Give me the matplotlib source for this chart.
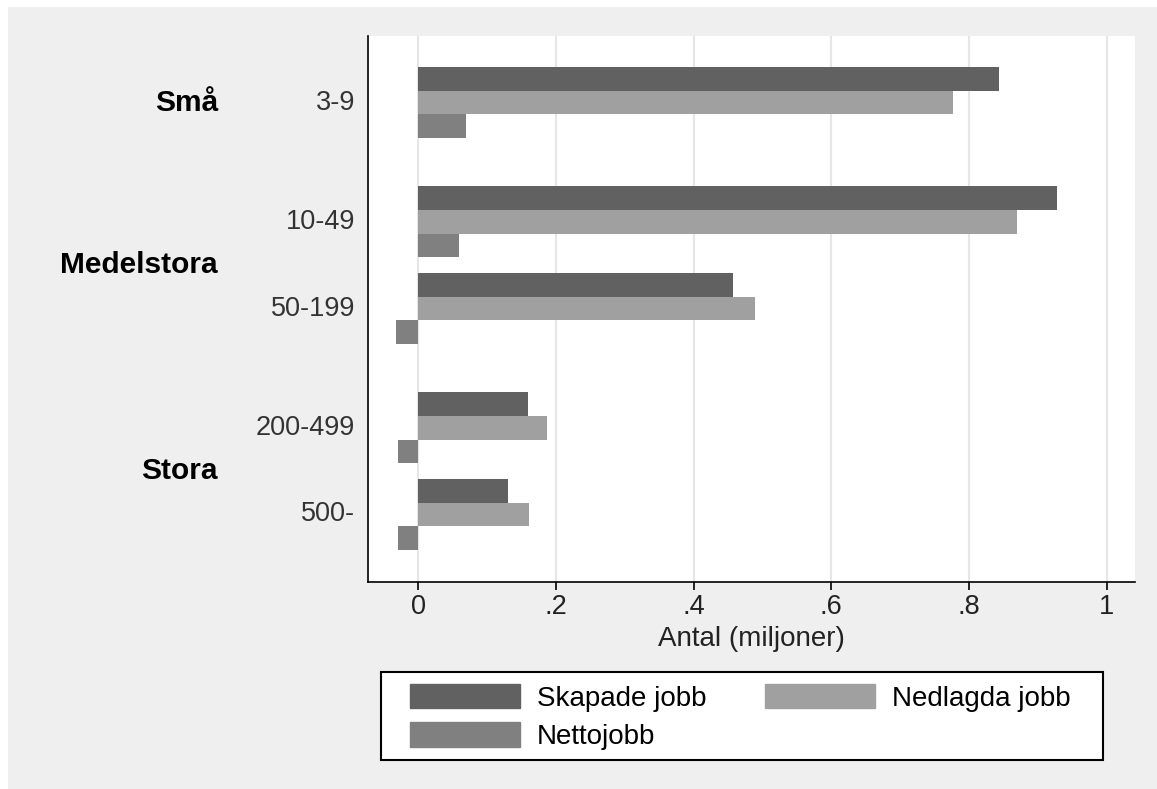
import numpy as np
import matplotlib
matplotlib.use('Agg')
import matplotlib.pyplot as plt
import matplotlib.transforms as mtransforms
from matplotlib.patches import Rectangle, Patch

plt.rcParams['font.family'] = ['Liberation Sans', 'DejaVu Sans']

# data (miljoner jobb)
sizes = ['3-9', '10-49', '50-199', '200-499', '500-']
size_group = [0, 1, 1, 2, 2]
groups = ['Små', 'Medelstora', 'Stora']
skapade = [0.844, 0.928, 0.458, 0.159, 0.131]
nedlagda = [0.777, 0.869, 0.490, 0.188, 0.161]
netto = [0.0697, 0.0595, -0.0315, -0.0295, -0.0295]
series_names = ['Skapade jobb', 'Nedlagda jobb', 'Nettojobb']
xticks = [0, 0.2, 0.4, 0.6, 0.8, 1.0]
xticklabels = ['0', '.2', '.4', '.6', '.8', '1']

c_skap = '#616161'
c_ned = '#a0a0a0'
c_net = '#808080'

W, H = 1157, 789
fig = plt.figure(figsize=(W / 100, H / 100), dpi=100, facecolor='white')
fig.patches.append(Rectangle((8 / W, 0), 1 - 8 / W, 1 - 7 / H, transform=fig.transFigure,
                             facecolor='#efefef', edgecolor='none', zorder=-10))

ax = fig.add_axes([368 / W, 1 - 582 / H, (1135 - 368) / W, (582 - 36) / H])
ax.set_facecolor('white')

# bar positions: step per size class plus extra gap between groups
pos = np.arange(len(sizes)) + 0.376 * np.array(size_group)
h = 0.273
ax.barh(pos - h, skapade, height=h, color=c_skap, zorder=3)
ax.barh(pos, nedlagda, height=h, color=c_ned, zorder=3)
ax.barh(pos + h, netto, height=h, color=c_net, zorder=3)

ax.set_xlim(-0.0726, 1.041)
ax.set_ylim(5.532, -0.769)
ax.set_xticks(xticks)
ax.set_xticklabels(xticklabels, fontsize=19.5, color='#222222')
ax.set_yticks([])
ax.grid(axis='x', color='#e6e6e6', linewidth=1.5, zorder=0)
ax.tick_params(axis='x', length=6, width=1.2, pad=3, color='black')
for s in ['top', 'right']:
    ax.spines[s].set_visible(False)
for s in ['left', 'bottom']:
    ax.spines[s].set_linewidth(1.2)
ax.set_xlabel('Antal (miljoner)', fontsize=20, labelpad=4, color='#222222')

# category labels
tr = mtransforms.blended_transform_factory(fig.transFigure, ax.transData)
for p, lab in zip(pos, sizes):
    ax.text(355 / W, p, lab, transform=tr, ha='right', va='center', fontsize=19.5, color='#333333')
for g, name in enumerate(groups):
    gp = [p for p, sg in zip(pos, size_group) if sg == g]
    ax.text(218 / W, np.mean(gp), name, transform=tr, ha='right', va='center',
            fontsize=21.5, fontweight='bold')

# legend box drawn by hand, entries in row order
fig.patches.append(Rectangle((381 / W, 1 - 760 / H), (1103 - 381) / W, (760 - 672) / H,
                             transform=fig.transFigure, facecolor='white',
                             edgecolor='black', linewidth=1.5, zorder=5))
handles = [Patch(color=c_skap), Patch(color=c_net), Patch(color=c_ned)]
labels = [series_names[0], series_names[2], series_names[1]]
fs = 20
px = fs * 100 / 72
leg = fig.legend(handles, labels, ncol=2, loc='upper left',
                 bbox_to_anchor=(410 / W, 1 - 684 / H), fontsize=fs, frameon=False,
                 handlelength=110 / px, handleheight=27 / px, borderpad=0,
                 borderaxespad=0, labelspacing=0.38, handletextpad=17 / px,
                 columnspacing=58 / px)
leg.set_zorder(6)

fig.savefig('out.png', dpi=100, facecolor=fig.get_facecolor())
